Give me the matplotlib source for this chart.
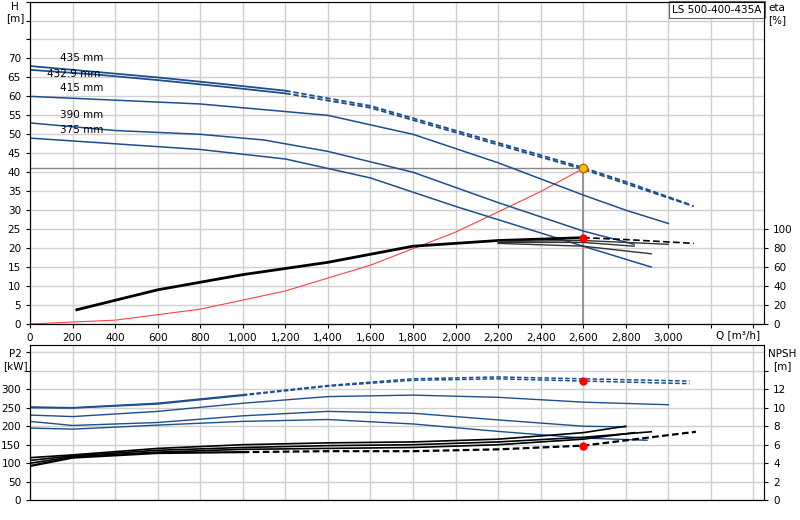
import numpy as np
import matplotlib.pyplot as plt

# head curves Q [m3/h] -> H [m]
q_435 = [0, 300, 600, 900, 1200, 1600, 2000, 2400, 2600, 2800, 3100]
h_435 = [68, 66.5, 65, 63.3, 61.5, 57.5, 51, 44.5, 41.2, 37.5, 31.5]
q_4329 = [0, 300, 600, 900, 1200, 1600, 2000, 2400, 2600, 2800, 3120]
h_4329 = [67, 65.8, 64.3, 62.6, 60.8, 57, 50.5, 44, 40.8, 37, 31]
q_415 = [0, 400, 800, 1200, 1400, 1800, 2200, 2600, 2800, 3000]
h_415 = [60, 59, 58, 56, 55, 50, 42.5, 34, 30, 26.5]
q_390 = [0, 400, 800, 1100, 1400, 1800, 2200, 2600, 2840]
h_390 = [53, 51, 50, 48.5, 45.5, 40, 32, 24.5, 21]
q_375 = [0, 400, 800, 1200, 1600, 2000, 2400, 2600, 2920]
h_375 = [49, 47.5, 46, 43.5, 38.5, 31, 24, 20.5, 15]
labels_dia = ["435 mm", "432.9 mm", "415 mm", "390 mm", "375 mm"]
label_h = [68.8, 64.6, 61.0, 53.9, 49.7]

# system curve
q_sys = [0, 400, 800, 1200, 1600, 2000, 2400, 2600]
h_sys = [0, 1.0, 3.9, 8.7, 15.5, 24.2, 34.9, 41]

# efficiency [%]
q_eta = [220, 600, 1000, 1400, 1800, 2200, 2600]
eta_main = [15, 36, 52, 65, 82, 88, 91]
q_eta_end = [2600, 2800, 3120]
eta_435 = [91, 89, 85]
eta_tails = [([2200, 2600, 3000], [87, 88, 84]),
             ([2200, 2600, 2840], [86, 86, 82]),
             ([2200, 2600, 2920], [85, 82, 74])]

# power P2 [kW]
q_p = [0, 200, 600, 1000, 1400, 1800, 2200, 2600, 3100]
p_435 = [252, 250, 262, 285, 310, 328, 333, 328, 322]
p_4329 = [250, 249, 260, 283, 308, 324, 328, 322, 315]
q_p415 = [0, 200, 600, 1000, 1400, 1800, 2200, 2600, 3000]
p_415 = [230, 226, 240, 262, 280, 284, 278, 265, 258]
q_p390 = [0, 200, 600, 1000, 1400, 1800, 2200, 2600, 2800]
p_390 = [213, 202, 210, 228, 240, 235, 217, 200, 198]
q_p375 = [0, 200, 600, 1000, 1400, 1800, 2200, 2600, 2900]
p_375 = [195, 192, 203, 213, 218, 206, 186, 168, 162]

# NPSH [m]
npsh_a = ([0, 200, 600, 1000, 1400, 1800, 2200, 2600, 2800], [4.6, 4.9, 5.6, 6.0, 6.2, 6.3, 6.6, 7.3, 8.0])
npsh_b = ([0, 200, 600, 1000, 1400, 1800, 2200, 2600, 2920], [4.3, 4.8, 5.4, 5.7, 5.9, 6.0, 6.3, 6.8, 7.4])
npsh_c = ([0, 200, 600, 1000, 1400, 1800, 2200, 2600, 2840], [4.0, 4.7, 5.2, 5.5, 5.6, 5.7, 6.0, 6.6, 7.3])
npsh_d = ([0, 200, 600, 1000, 1400, 1800, 2200, 2600, 3130], [3.7, 4.6, 5.1, 5.2, 5.3, 5.3, 5.5, 5.9, 7.4])

q_op, h_op, eta_op, p_op, npsh_op = 2600, 41.2, 91, 322, 5.9

BLUE = "#1f4e8c"
GRID = "#d0d0d0"

fig = plt.figure(figsize=(8, 5.2), dpi=100)
ax1 = fig.add_axes([0.0375, 0.377, 0.9175, 0.62])
ax2 = fig.add_axes([0.0375, 0.038, 0.9175, 0.299])


def split_plot(ax, q, v, cut, color, lw, **kw):
    q = np.asarray(q); v = np.asarray(v)
    k = np.searchsorted(q, cut)  # first index past the cut
    ax.plot(q[:k], v[:k], color=color, lw=lw, **kw)
    ax.plot(q[k - 1:], v[k - 1:], color=color, lw=lw, ls=(0, (3, 1.5)), **kw)


def style(ax):
    ax.set_xlim(0, 3450)
    ax.set_xticks(np.arange(0, 3401, 200))
    ax.grid(True, color=GRID, lw=1)
    ax.set_axisbelow(True)
    for s in ["top", "right"]:
        ax.spines[s].set_color("#999999")
    ax.tick_params(labelsize=7.5, length=3)


# top chart
style(ax1)
ax1.set_ylim(0, 85)
ax1.set_yticks(np.arange(0, 86, 5))
ax1.set_yticklabels([str(v) if v <= 70 else "" for v in range(0, 86, 5)])
ax1.set_xticklabels([f"{v:,}" if v <= 3000 else "" for v in range(0, 3401, 200)])

ax1.plot([0, q_op], [h_op, h_op], color="#888888", lw=1)
ax1.plot([q_op, q_op], [0, h_op], color="#888888", lw=1.2)
ax1.plot(q_sys, h_sys, color="#ff4040", lw=0.8)

split_plot(ax1, q_435, h_435, 1300, BLUE, 1.3)
split_plot(ax1, q_4329, h_4329, 1300, BLUE, 1.3)
for q, h in [(q_415, h_415), (q_390, h_390), (q_375, h_375)]:
    ax1.plot(q, h, color=BLUE, lw=1.1)
for lab, y in zip(labels_dia, label_h):
    ax1.text(140 if lab != "432.9 mm" else 80, y, lab, fontsize=7.5, va="bottom")

# eta in H units (100 % == 25 m)
e = lambda v: np.asarray(v) / 4.0
ax1.plot(q_eta, e(eta_main), color="black", lw=2)
for q, v in eta_tails:
    ax1.plot(q, e(v), color="#333333", lw=1)
ax1.plot(q_eta_end, e(eta_435), color="black", lw=1.2, ls=(0, (4, 2)))
ax1.plot(q_op, e(eta_op), "o", color="red", ms=5)
ax1.plot(q_op, h_op, "o", color="#ffc000", mec="#cc6600", ms=6)

ax1r = ax1.twinx()
ax1r.set_ylim(0, 85 * 4)
ax1r.set_yticks(np.arange(0, 101, 20))
ax1r.tick_params(labelsize=7.5, length=3)
ax1r.spines["right"].set_color("black")

ax1.text(-0.02, 1.0, "H\n[m]", transform=ax1.transAxes, fontsize=7.5, va="top", ha="center")
ax1r.text(1.018, 0.995, "eta\n[%]", transform=ax1.transAxes, fontsize=7.5, va="top", ha="center")
ax1.text(3330, -1.5, "Q [m³/h]", fontsize=7.5, va="top", ha="center")
ax1.text(0.997, 0.99, "LS 500-400-435A", transform=ax1.transAxes, fontsize=7.5,
         ha="right", va="top", bbox=dict(fc="white", ec="#666666", lw=0.8, pad=2.5))

# bottom chart
style(ax2)
ax2.set_xticklabels([])
ax2.tick_params(axis="x", length=0)
ax2.set_ylim(0, 420)
ax2.set_yticks(np.arange(0, 401, 50))
ax2.set_yticklabels([str(v) if v <= 300 else "" for v in range(0, 401, 50)])

split_plot(ax2, q_p, p_435, 1300, BLUE, 1.1)
split_plot(ax2, q_p, p_4329, 1300, BLUE, 1.1)
for q, p in [(q_p415, p_415), (q_p390, p_390), (q_p375, p_375)]:
    ax2.plot(q, p, color=BLUE, lw=1)
ax2.plot(q_op, p_op, "o", color="red", ms=5)

n = lambda v: np.asarray(v) * 25.0
for q, v in [npsh_a, npsh_b, npsh_c]:
    ax2.plot(q, n(v), color="black", lw=1.2)
split_plot(ax2, npsh_d[0], n(npsh_d[1]), 1300, "black", 1.6)
ax2.plot(q_op, npsh_op * 25, "o", color="red", ms=5)

ax2r = ax2.twinx()
ax2r.set_ylim(0, 420 / 25)
ax2r.set_yticks(np.arange(0, 15, 2))
ax2r.set_yticklabels([str(v) if v <= 12 else "" for v in range(0, 15, 2)])
ax2r.tick_params(labelsize=7.5, length=3)
ax2r.spines["right"].set_color("black")

ax2.text(-0.02, 0.97, "P2\n[kW]", transform=ax2.transAxes, fontsize=7.5, va="top", ha="center")
ax2r.text(1.025, 0.97, "NPSH\n[m]", transform=ax2.transAxes, fontsize=7.5, va="top", ha="center")

fig.savefig("out.png", dpi=100)
